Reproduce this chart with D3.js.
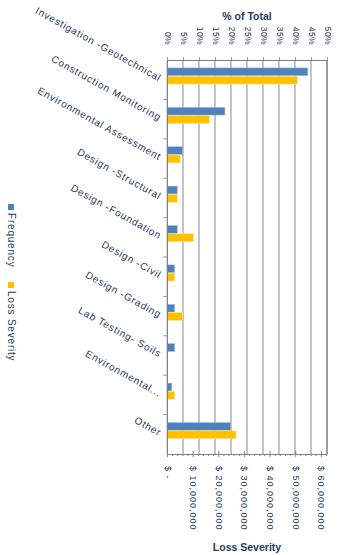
<!DOCTYPE html>
<html>
<head>
<meta charset="utf-8">
<script src="https://cdn.jsdelivr.net/npm/d3@7"></script>
<style>
  html, body { margin: 0; padding: 0; background: #fff; }
  svg { display: block; font-family: "Liberation Sans", Arial, sans-serif; }
</style>
</head>
<body>
<div id="chart"></div>
<script>
// categories, top to bottom
const categories = [
  "Investigation -Geotechnical",
  "Construction Monitoring",
  "Environmental Assessment",
  "Design -Structural",
  "Design -Foundation",
  "Design -Civil",
  "Design -Grading",
  "Lab Testing- Soils",
  "Environmental...",
  "Other"
];
// frequency, % of total claims
const frequency = [44, 18.1, 4.9, 3.2, 3.2, 2.4, 2.4, 2.4, 1.5, 19.9];
// loss severity, dollars
const lossSeverity = [50.8e6, 16.5e6, 5.1e6, 4.0e6, 10.3e6, 3.0e6, 6.1e6, 0, 3.0e6, 26.9e6];
const series = ["Frequency", "Loss Severity"];
const colors = ["#4f81bd", "#ffc000"];
const pctTicks = [0, 5, 10, 15, 20, 25, 30, 35, 40, 45, 50];
const lossTicks = [0, 10e6, 20e6, 30e6, 40e6, 50e6, 60e6];

const W = 340, H = 555;
const m = { t: 60, r: 13, b: 101, l: 167 };
const textColor = "#1f3a60";

const svg = d3.select("#chart").append("svg")
  .attr("width", W)
  .attr("height", H)
  .attr("viewBox", [0, 0, W, H]);

//
const x = d3.scaleLinear().domain([0, 50]).range([m.l, W - m.r]);
const x2 = d3.scaleLinear().domain([0, 62.4e6]).range([m.l, W - m.r]);
const y = d3.scaleBand().domain(categories).range([m.t, H - m.b]);
const sub = d3.scaleBand().domain(series)
  .range([y.bandwidth() * 0.2, y.bandwidth() * 0.61]).paddingInner(0.06);

// gridlines
svg.append("g")
  .selectAll("line")
  .data(pctTicks)
  .join("line")
  .attr("x1", d => x(d)).attr("x2", d => x(d))
  .attr("y1", m.t).attr("y2", H - m.b)
  .attr("stroke", (d, i) => i === pctTicks.length - 1 ? "#80808c" : "#b4b4bc")
  .attr("stroke-width", (d, i) => i === 0 ? 1 : 1.6);

// bars
const rows = categories.map((c, i) => ({ c, f: frequency[i], l: lossSeverity[i] }));
const bars = svg.append("g");
bars.selectAll("rect.freq")
  .data(rows)
  .join("rect")
  .attr("class", "freq")
  .attr("x", x(0))
  .attr("y", d => y(d.c) + sub("Frequency"))
  .attr("width", d => x(d.f) - x(0))
  .attr("height", sub.bandwidth())
  .attr("fill", colors[0])
  .attr("stroke", "#a7c0de")
  .attr("stroke-width", 0.6);
bars.selectAll("rect.loss")
  .data(rows.filter(d => d.l > 0))
  .join("rect")
  .attr("class", "loss")
  .attr("x", x2(0))
  .attr("y", d => y(d.c) + sub("Loss Severity"))
  .attr("width", d => x2(d.l) - x2(0))
  .attr("height", sub.bandwidth())
  .attr("fill", colors[1])
  .attr("stroke", "#ffe08a")
  .attr("stroke-width", 0.6);

// top axis: % of Total
const axTop = svg.append("g")
  .attr("transform", `translate(0,${m.t})`)
  .call(d3.axisTop(x).tickValues(pctTicks).tickSize(3).tickSizeOuter(0).tickFormat(d => d + "%"))
  .call(g => g.selectAll(".domain").attr("stroke", "#80808c"))
  .call(g => g.selectAll(".tick line").attr("stroke", "#a0a0a8"));
axTop.selectAll(".tick text")
  .attr("fill", textColor)
  .attr("font-size", 8.5)
  .attr("letter-spacing", 0.4)
  .attr("text-anchor", "end")
  .attr("dy", null).attr("y", null)
  .attr("transform", "translate(-3,-15) rotate(90)");

svg.append("text")
  .attr("x", (x.range()[0] + x.range()[1]) / 2)
  .attr("y", 20)
  .attr("text-anchor", "middle")
  .attr("font-size", 10.5)
  .attr("font-weight", "bold")
  .attr("fill", textColor)
  .text("% of Total");

// bottom axis: Loss Severity
const minor = d3.range(0, 62.4e6, 2e6).filter(d => d % 10e6 !== 0);
svg.append("g")
  .attr("transform", `translate(0,${H - m.b})`)
  .call(d3.axisBottom(x2).tickValues(minor).tickSize(2).tickSizeOuter(0).tickFormat(""))
  .call(g => g.select(".domain").attr("stroke", "#80808c"))
  .call(g => g.selectAll(".tick line").attr("stroke", "#80808c"));
const axBottom = svg.append("g")
  .attr("transform", `translate(0,${H - m.b})`)
  .call(d3.axisBottom(x2).tickValues(lossTicks).tickSize(3).tickSizeOuter(0)
    .tickFormat(d => d === 0 ? "$ -" : "$ " + d3.format(",")(d)))
  .call(g => g.select(".domain").remove())
  .call(g => g.selectAll(".tick line").attr("y1", -3).attr("stroke", "#80808c"));
axBottom.selectAll(".tick text")
  .attr("fill", textColor)
  .attr("font-size", 9)
  .attr("letter-spacing", 1)
  .attr("text-anchor", "start")
  .attr("dy", null).attr("y", null)
  .attr("transform", "translate(-3,12) rotate(90)");

svg.append("text")
  .attr("x", (x.range()[0] + x.range()[1]) / 2)
  .attr("y", 551)
  .attr("text-anchor", "middle")
  .attr("font-size", 10.5)
  .attr("font-weight", "bold")
  .attr("fill", textColor)
  .text("Loss Severity");

// category axis
svg.append("g")
  .attr("transform", `translate(${m.l},0)`)
  .call(d3.axisLeft(y).tickSize(0).tickFormat(""))
  .call(g => g.select(".domain").attr("stroke", "#80808c"));
svg.append("g")
  .selectAll("line")
  .data(categories.slice(1))
  .join("line")
  .attr("x1", m.l - 4).attr("x2", m.l)
  .attr("y1", d => y(d)).attr("y2", d => y(d))
  .attr("stroke", "#9a9aa4");
svg.append("g")
  .selectAll("text")
  .data(categories)
  .join("text")
  .attr("transform", d => `translate(${m.l - 8},${y(d) + y.bandwidth() / 2 + 2}) rotate(29)`)
  .attr("text-anchor", "end")
  .attr("font-size", 10)
  .attr("letter-spacing", 0.8)
  .attr("fill", textColor)
  .text(d => d);

// legend
const legend = svg.append("g")
  .selectAll("g")
  .data(series)
  .join("g")
  .attr("transform", (d, i) => `translate(11,${[207, 285][i]})`);
legend.append("rect")
  .attr("x", -3).attr("y", -3)
  .attr("width", 6).attr("height", 6)
  .attr("fill", (d, i) => colors[i]);
legend.append("text")
  .attr("transform", "translate(-3.5,6) rotate(90)")
  .attr("font-size", 10)
  .attr("letter-spacing", 0.8)
  .attr("fill", textColor)
  .text(d => d);
</script>
</body>
</html>
